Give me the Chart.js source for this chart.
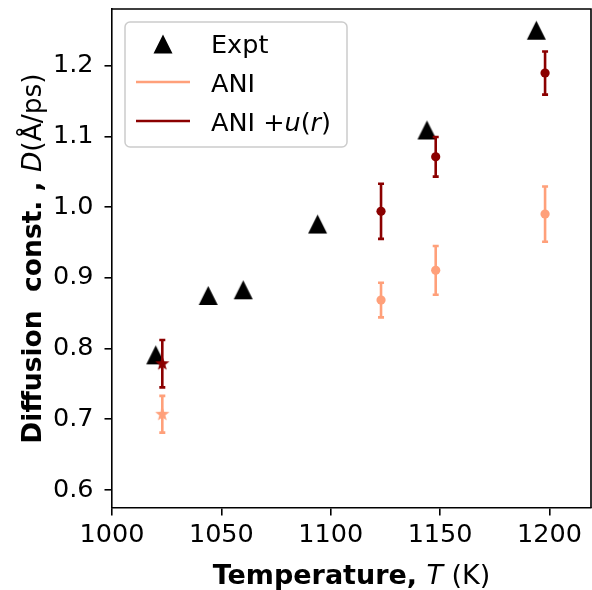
<!DOCTYPE html>
<html><head><meta charset="utf-8">
<script src="https://cdn.jsdelivr.net/npm/chart.js@4.4.0/dist/chart.umd.min.js"></script>
<style>html,body{margin:0;padding:0;background:#fff;} #wrap{width:592px;height:590px;position:relative;}</style>
</head><body><div id="wrap"><canvas id="c" width="592" height="590"></canvas></div>
<script>
// ---- data ----
const exptT = [1020, 1044, 1060, 1094, 1144, 1194];
const exptD = [0.791, 0.875, 0.883, 0.976, 1.109, 1.250];
const aniT = [1023, 1123, 1148, 1198];
const aniD = [0.707, 0.8685, 0.9105, 0.990];
const aniErr = [0.026, 0.0245, 0.0345, 0.039];
const aniuT = [1023, 1123, 1148, 1198];
const aniuD = [0.7785, 0.994, 1.071, 1.1895];
const aniuErr = [0.0335, 0.039, 0.028, 0.0305];
const xTicks = [1000, 1050, 1100, 1150, 1200];
const yTicks = [0.6, 0.7, 0.8, 0.9, 1.0, 1.1, 1.2];

const ANI_COLOR = '#FFA07A';
const ANIU_COLOR = '#8B0000';
const FONT = '"DejaVu Sans", sans-serif';
const TICK_SIZE = 25.5;

function makeStar(color, R) {
  const c = document.createElement('canvas');
  const s = Math.ceil(R * 2 + 2);
  c.width = s; c.height = s;
  const g = c.getContext('2d');
  g.fillStyle = color;
  g.beginPath();
  const cx = s / 2, cy = s / 2, r = R * 0.42;
  for (let i = 0; i < 10; i++) {
    const rad = (i % 2 === 0) ? R : r;
    const a = -Math.PI / 2 + i * Math.PI / 5;
    const px = cx + rad * Math.cos(a), py = cy + rad * Math.sin(a);
    if (i === 0) g.moveTo(px, py); else g.lineTo(px, py);
  }
  g.closePath(); g.fill();
  return c;
}
function triPath(g, cx, cy, h) {
  g.beginPath();
  g.moveTo(cx, cy - h);
  g.lineTo(cx - h, cy + h);
  g.lineTo(cx + h, cy + h);
  g.closePath();
}
function makeTri(color, h) {
  const c = document.createElement('canvas');
  const s = Math.ceil(h * 2 + 2);
  c.width = s; c.height = s;
  const g = c.getContext('2d');
  g.fillStyle = color;
  triPath(g, s / 2, s / 2, h);
  g.fill();
  return c;
}
const starAni = makeStar(ANI_COLOR, 7.5);
const starAniu = makeStar(ANIU_COLOR, 7.5);
const triExpt = makeTri('#000', 9.5);

function pts(xs, ys) { return xs.map((x, i) => ({x: x, y: ys[i]})); }

const errPlugin = {
  id: 'err',
  beforeDatasetDraw(chart, args) {
    const ds = chart.data.datasets[args.index];
    if (!ds.errors) return;
    const ctx = chart.ctx, xs = chart.scales.x, ys = chart.scales.y;
    ctx.save();
    ctx.strokeStyle = ds.borderColor;
    ctx.lineWidth = 2.6;
    ds.data.forEach((p, i) => {
      const e = ds.errors[i];
      const px = xs.getPixelForValue(p.x);
      const y1 = ys.getPixelForValue(p.y + e), y2 = ys.getPixelForValue(p.y - e);
      ctx.beginPath();
      ctx.moveTo(px, y1); ctx.lineTo(px, y2);
      ctx.moveTo(px - 3, y1); ctx.lineTo(px + 3, y1);
      ctx.moveTo(px - 3, y2); ctx.lineTo(px + 3, y2);
      ctx.stroke();
    });
    ctx.restore();
  }
};

function drawRuns(ctx, runs, x, y) {
  let cx = x;
  runs.forEach(r => {
    ctx.font = r[1];
    ctx.fillText(r[0], cx, y);
    cx += ctx.measureText(r[0]).width;
  });
  return cx - x;
}
function runsWidth(ctx, runs) {
  let w = 0;
  runs.forEach(r => { ctx.font = r[1]; w += ctx.measureText(r[0]).width; });
  return w;
}

const decoPlugin = {
  id: 'deco',
  afterDraw(chart) {
    const ctx = chart.ctx, a = chart.chartArea;
    ctx.save();
    // top and right spines
    ctx.strokeStyle = '#000'; ctx.lineWidth = 1.6;
    ctx.beginPath();
    ctx.moveTo(a.left, a.top); ctx.lineTo(a.right, a.top); ctx.lineTo(a.right, a.bottom);
    ctx.stroke();

    ctx.fillStyle = '#000';
    ctx.textBaseline = 'alphabetic';
    ctx.textAlign = 'left';
    // x title
    const XB = 'bold 27px ' + FONT, XN = '27px ' + FONT, XI = 'italic 27px ' + FONT;
    const xr = [['Temperature, ', XB], ['T', XI], [' (K)', XN]];
    const xw = runsWidth(ctx, xr);
    drawRuns(ctx, xr, (a.left + a.right) / 2 - xw / 2, 584);
    // y title
    const YB = 'bold 26.5px ' + FONT, YN = '26.5px ' + FONT, YI = 'italic 26.5px ' + FONT;
    const yr = [['Diffusion  const. , ', YB], ['D', YI], ['(Å/ps)', YN]];
    const yw = runsWidth(ctx, yr);
    ctx.save();
    ctx.translate(41, (a.top + a.bottom) / 2);
    ctx.rotate(-Math.PI / 2);
    drawRuns(ctx, yr, -yw / 2, 0);
    ctx.restore();

    // legend
    const lx = 125, ly = 22, lw = 222, lh = 125;
    ctx.beginPath();
    ctx.roundRect(lx, ly, lw, lh, 5);
    ctx.fillStyle = 'rgba(255,255,255,0.8)';
    ctx.fill();
    ctx.strokeStyle = '#cccccc'; ctx.lineWidth = 1.5;
    ctx.stroke();
    // Expt marker
    ctx.fillStyle = '#000';
    triPath(ctx, 163, 44, 9.5);
    ctx.fill();
    // lines
    ctx.lineWidth = 2.6;
    ctx.strokeStyle = ANI_COLOR;
    ctx.beginPath(); ctx.moveTo(136, 82); ctx.lineTo(190, 82); ctx.stroke();
    ctx.strokeStyle = ANIU_COLOR;
    ctx.beginPath(); ctx.moveTo(136, 121); ctx.lineTo(190, 121); ctx.stroke();
    ctx.fillStyle = '#000';
    const N = TICK_SIZE + 'px ' + FONT, I = 'italic ' + TICK_SIZE + 'px ' + FONT;
    drawRuns(ctx, [['Expt', N]], 211, 53);
    drawRuns(ctx, [['ANI', N]], 211, 92);
    drawRuns(ctx, [['ANI +', N], ['u', I], ['(', N], ['r', I], [')', N]], 211, 131);
    ctx.restore();
  }
};

new Chart(document.getElementById('c'), {
  type: 'scatter',
  data: {
    datasets: [
      {
        label: 'Expt', data: pts(exptT, exptD), order: 3,
        pointStyle: triExpt, pointRadius: 10, pointHoverRadius: 10,
        backgroundColor: '#000', borderColor: '#000', borderWidth: 0
      },
      {
        label: 'ANI', data: pts(aniT, aniD), errors: aniErr, order: 2,
        pointStyle: [starAni, 'circle', 'circle', 'circle'],
        pointRadius: 4.6, pointHoverRadius: 4.6,
        backgroundColor: ANI_COLOR, borderColor: ANI_COLOR, borderWidth: 0
      },
      {
        label: 'ANI +u(r)', data: pts(aniuT, aniuD), errors: aniuErr, order: 1,
        pointStyle: [starAniu, 'circle', 'circle', 'circle'],
        pointRadius: 4.6, pointHoverRadius: 4.6,
        backgroundColor: ANIU_COLOR, borderColor: ANIU_COLOR, borderWidth: 0
      }
    ]
  },
  options: {
    responsive: false, animation: false,
    layout: {autoPadding: false, padding: {top: 9, right: 1, left: 0, bottom: 0}},
    plugins: {legend: {display: false}, tooltip: {enabled: false}},
    scales: {
      x: {
        type: 'linear', min: 1000, max: 1219,
        afterBuildTicks: s => { s.ticks = xTicks.map(v => ({value: v})); },
        afterFit: s => { s.height = 82; s.paddingLeft = 0; s.paddingRight = 0; },
        ticks: {color: '#000', font: {family: 'DejaVu Sans', size: TICK_SIZE}, padding: 5, maxRotation: 0,
          callback: v => String(v)},
        grid: {drawOnChartArea: false, drawTicks: true, tickLength: 7.5, color: '#000', lineWidth: 1.6},
        border: {color: '#000', width: 1.6}
      },
      y: {
        type: 'linear', min: 0.5745, max: 1.28,
        afterBuildTicks: s => { s.ticks = yTicks.map(v => ({value: v})); },
        afterFit: s => { s.width = 112; s.paddingTop = 0; s.paddingBottom = 0; },
        ticks: {color: '#000', font: {family: 'DejaVu Sans', size: TICK_SIZE}, padding: 11,
          callback: v => v.toFixed(1)},
        grid: {drawOnChartArea: false, drawTicks: true, tickLength: 7.5, color: '#000', lineWidth: 1.6},
        border: {color: '#000', width: 1.6}
      }
    }
  },
  plugins: [errPlugin, decoPlugin]
});
</script>
</body></html>
